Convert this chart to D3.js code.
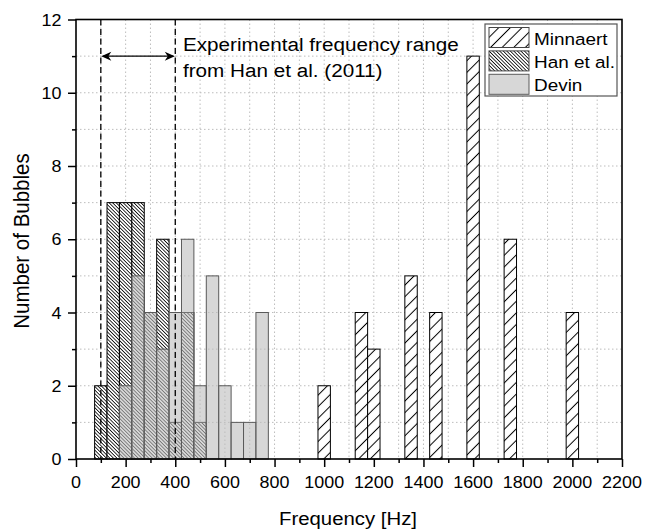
<!DOCTYPE html>
<html>
<head>
<meta charset="utf-8">
<script src="https://cdn.jsdelivr.net/npm/d3@7"></script>
<style>
  body { margin: 0; background: #fff; }
  svg text { font-family: "Liberation Sans", Arial, sans-serif; fill: #000; }
</style>
</head>
<body>
<svg id="chart" width="645" height="529"></svg>
<script>
// bubble counts per 50 Hz bin (bin centre frequency)
var minnaertFreq = [1000, 1150, 1200, 1350, 1450, 1600, 1750, 2000];
var minnaertCount = [2, 4, 3, 5, 4, 11, 6, 4];

var hanFreq = [100, 150, 200, 250, 300, 350, 400, 450, 500];
var hanCount = [2, 7, 7, 7, 4, 6, 1, 4, 1];

var devinFreq = [200, 250, 300, 350, 400, 450, 500, 550, 600, 650, 700, 750];
var devinCount = [2, 5, 4, 3, 4, 6, 2, 5, 2, 1, 1, 4];

var xTicks = [0, 200, 400, 600, 800, 1000, 1200, 1400, 1600, 1800, 2000, 2200];
var xMinor = [100, 300, 500, 700, 900, 1100, 1300, 1500, 1700, 1900, 2100];
var yTicks = [0, 2, 4, 6, 8, 10, 12];
var yMinor = [1, 3, 5, 7, 9, 11];

var rangeLow = 100, rangeHigh = 400, arrowLevel = 11;
var binWidth = 50;

var legendNames = ['Minnaert', 'Han et al.', 'Devin'];
var annotationLines = ['Experimental frequency range', 'from Han et al. (2011)'];

var svg = d3.select('#chart');
var plot = {l: 76, r: 622, t: 19.5, b: 459};
var sx = 1.1; // text in the picture is a bit wide

var x = d3.scaleLinear().domain([0, 2200]).range([plot.l, plot.r]);
var y = d3.scaleLinear().domain([0, 12]).range([plot.b, plot.t]);

// hatch patterns
var defs = svg.append('defs');
function hatch(id, gap, angle, sw) {
    var p = defs.append('pattern')
        .attr('id', id)
        .attr('patternUnits', 'userSpaceOnUse')
        .attr('width', gap).attr('height', gap)
        .attr('patternTransform', 'rotate(' + angle + ')');
    p.append('rect').attr('width', gap).attr('height', gap).attr('fill', '#fff');
    p.append('line')
        .attr('x1', gap / 2).attr('x2', gap / 2)
        .attr('y1', 0).attr('y2', gap)
        .attr('stroke', '#000').attr('stroke-width', sw);
}
hatch('minnaertHatch', 8.2, 45, 1);
hatch('hanHatch', 2.5, -45, 0.8);

// grid
var grid = svg.append('g');
grid.selectAll('.vgrid')
    .data(xTicks.concat(xMinor).filter(function(d) { return d > 0 && d < 2200; }))
    .enter().append('line')
    .attr('x1', function(d) { return x(d); }).attr('x2', function(d) { return x(d); })
    .attr('y1', plot.t).attr('y2', plot.b)
    .attr('stroke', '#bdbdbd').attr('stroke-width', 1).attr('stroke-dasharray', '1.5,2.5');
grid.selectAll('.hgrid')
    .data(yTicks.concat(yMinor).filter(function(d) { return d > 0 && d < 12; }))
    .enter().append('line')
    .attr('y1', function(d) { return y(d); }).attr('y2', function(d) { return y(d); })
    .attr('x1', plot.l).attr('x2', plot.r)
    .attr('stroke', '#bdbdbd').attr('stroke-width', 1).attr('stroke-dasharray', '1.5,2.5');

function drawBars(freqs, counts, fill, stroke, opacity) {
    var data = freqs.map(function(f, i) { return {f: f, c: counts[i]}; });
    svg.append('g').selectAll('rect')
        .data(data)
        .enter().append('rect')
        .attr('x', function(d) { return x(d.f - binWidth / 2); })
        .attr('width', function(d) { return x(d.f + binWidth / 2) - x(d.f - binWidth / 2); })
        .attr('y', function(d) { return y(d.c); })
        .attr('height', function(d) { return y(0) - y(d.c); })
        .attr('fill', fill)
        .attr('fill-opacity', opacity)
        .attr('stroke', stroke)
        .attr('stroke-width', 1);
}
drawBars(minnaertFreq, minnaertCount, 'url(#minnaertHatch)', '#000', 1);
drawBars(hanFreq, hanCount, 'url(#hanHatch)', '#000', 1);
drawBars(devinFreq, devinCount, '#bcbcbc', '#5a5a5a', 0.6);

// dashed range lines and arrow
svg.selectAll('.rangeLine')
    .data([rangeLow, rangeHigh])
    .enter().append('line')
    .attr('x1', function(d) { return x(d); }).attr('x2', function(d) { return x(d); })
    .attr('y1', plot.t).attr('y2', plot.b)
    .attr('stroke', '#000').attr('stroke-width', 1.3).attr('stroke-dasharray', '6,3.5');

var ay = y(arrowLevel);
svg.append('line')
    .attr('x1', x(rangeLow) + 2).attr('x2', x(rangeHigh) - 2)
    .attr('y1', ay).attr('y2', ay)
    .attr('stroke', '#000').attr('stroke-width', 1.3);
function arrowHead(tipX, dir) {
    svg.append('path')
        .attr('d', 'M' + tipX + ',' + ay +
            'L' + (tipX + dir * 10) + ',' + (ay - 4.5) +
            'L' + (tipX + dir * 7) + ',' + ay +
            'L' + (tipX + dir * 10) + ',' + (ay + 4.5) + 'Z')
        .attr('fill', '#000');
}
arrowHead(x(rangeLow) + 0.5, 1);
arrowHead(x(rangeHigh) - 0.5, -1);

// text helper with a small horizontal stretch
function label(g, tx, ty, str, size, anchor, rot) {
    var tr = 'translate(' + tx + ',' + ty + ')' + (rot ? ' rotate(' + rot + ') scale(1,' + sx + ')' : ' scale(' + sx + ',1)');
    return g.append('text')
        .attr('transform', tr)
        .attr('text-anchor', anchor)
        .style('font-size', size + 'px')
        .text(str);
}

annotationLines.forEach(function(t, i) {
    label(svg, 183, 50.5 + i * 26, t, 18.8, 'start');
});

// axes: ticks drawn outward, labels by hand so they can be stretched
var axisG = svg.append('g');
var xAxis = d3.axisBottom(x).tickValues(xTicks).tickSize(8).tickFormat('');
var xAxisMinor = d3.axisBottom(x).tickValues(xMinor).tickSize(4).tickFormat('');
axisG.append('g').attr('transform', 'translate(0,' + plot.b + ')').call(xAxisMinor);
axisG.append('g').attr('transform', 'translate(0,' + plot.b + ')').call(xAxis);
var yAxis = d3.axisLeft(y).tickValues(yTicks).tickSize(8).tickFormat('');
var yAxisMinor = d3.axisLeft(y).tickValues(yMinor).tickSize(4).tickFormat('');
axisG.append('g').attr('transform', 'translate(' + plot.l + ',0)').call(yAxisMinor);
axisG.append('g').attr('transform', 'translate(' + plot.l + ',0)').call(yAxis);
axisG.selectAll('.domain').remove();
axisG.selectAll('line').attr('stroke', '#000').attr('stroke-width', 1.5);

xTicks.forEach(function(v) { label(svg, x(v), 488, v, 16.3, 'middle'); });
yTicks.forEach(function(v) { label(svg, 61.5, y(v) + 6, v, 16.3, 'end'); });

// frame
svg.append('rect')
    .attr('x', plot.l).attr('y', plot.t)
    .attr('width', plot.r - plot.l).attr('height', plot.b - plot.t)
    .attr('fill', 'none').attr('stroke', '#000').attr('stroke-width', 1.6);

label(svg, 348, 525, 'Frequency [Hz]', 18.5, 'middle');
label(svg, 29, 241, 'Number of Bubbles', 20.5, 'middle', -90);

// legend
var leg = svg.append('g').attr('transform', 'translate(485,24)');
leg.append('rect').attr('width', 132).attr('height', 72)
    .attr('fill', '#fff').attr('stroke', '#555').attr('stroke-width', 1.2);
var swFill = ['url(#minnaertHatch)', 'url(#hanHatch)', '#bcbcbc'];
var swOp = [1, 1, 0.6];
var swStroke = ['#444', '#444', '#5a5a5a'];
legendNames.forEach(function(n, i) {
    leg.append('rect')
        .attr('x', 4).attr('y', 3.5 + i * 23.4)
        .attr('width', 40).attr('height', 20)
        .attr('fill', swFill[i]).attr('fill-opacity', swOp[i])
        .attr('stroke', swStroke[i]).attr('stroke-width', 1);
    label(leg, 49, 20.5 + i * 23.4, n, 17.2, 'start');
});
</script>
</body>
</html>
